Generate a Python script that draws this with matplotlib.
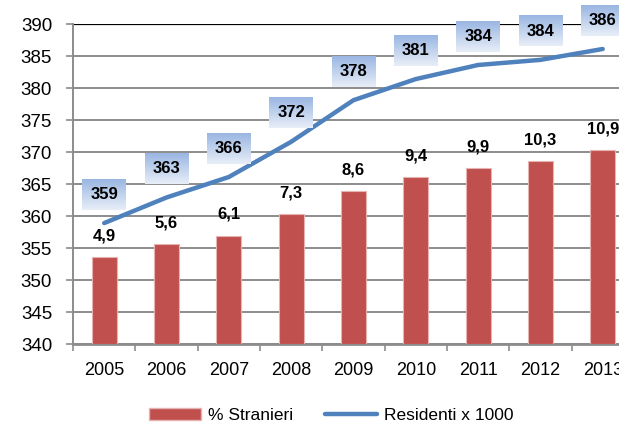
import numpy as np
import matplotlib
matplotlib.use("Agg")
import matplotlib.pyplot as plt
from matplotlib.colors import LinearSegmentedColormap
from matplotlib.lines import Line2D
from matplotlib.patches import Patch

plt.rcParams['font.family'] = ['Liberation Sans', 'DejaVu Sans']

years = ['2005', '2006', '2007', '2008', '2009', '2010', '2011', '2012', '2013']
pct_stranieri = [4.9, 5.6, 6.1, 7.3, 8.6, 9.4, 9.9, 10.3, 10.9]
residenti = [358.9, 362.9, 366.1, 371.6, 378.1, 381.4, 383.6, 384.4, 386.1]
pct_labels = ['4,9', '5,6', '6,1', '7,3', '8,6', '9,4', '9,9', '10,3', '10,9']

bar_color = '#C0504D'
line_color = '#4F81BD'
grid_color = '#8C8C8C'

fig = plt.figure(figsize=(6.19, 4.29), dpi=100)
# plot area runs past the right edge, as in the source image
ax = fig.add_axes([0.118, 0.198, 0.906, 0.746])
x = np.arange(len(years))

ax.set_xlim(-0.5, len(years) - 0.5)
ax.set_ylim(340, 390)
ax.set_yticks(np.arange(340, 391, 5))
ax.tick_params(axis='y', labelsize=13.5, length=5, width=1.2, color=grid_color, pad=10)
ax.set_xticks(x)
ax.set_xticklabels(years)
ax.set_xticks(np.arange(-0.5, len(years)), minor=True)
ax.tick_params(axis='x', which='major', length=0, labelsize=13, pad=13)
ax.tick_params(axis='x', which='minor', length=5, width=1.2, color=grid_color)
ax.grid(axis='y', color=grid_color, linewidth=1.4)
ax.set_axisbelow(True)
for s in ['right', 'top']:
    ax.spines[s].set_visible(False)
ax.spines['left'].set_color(grid_color)
ax.spines['left'].set_linewidth(1.4)
ax.spines['bottom'].set_color(grid_color)
ax.spines['bottom'].set_linewidth(2)
ax.axhline(390, color='black', linewidth=1.6, zorder=1)

# bars on hidden secondary scale
ax2 = ax.twinx()
ax2.set_ylim(0, 18)
ax2.bar(x, pct_stranieri, width=0.4, color=bar_color, edgecolor='#E6B3B2', linewidth=0.8)
for xi, v, lab in zip(x, pct_stranieri, pct_labels):
    ax2.annotate(lab, (xi, v), xytext=(0, 10), textcoords='offset points',
                 ha='center', va='bottom', fontsize=12, fontweight='bold')
ax2.set_yticks([])
for s in ax2.spines.values():
    s.set_visible(False)

# line on hidden primary-scale twin
ax3 = ax.twinx()
ax3.set_ylim(340, 390)
ax3.plot(x, residenti, color=line_color, linewidth=3.2, solid_capstyle='round')
ax3.set_yticks([])
for s in ax3.spines.values():
    s.set_visible(False)

# gradient label boxes, darker on top
cmap = LinearSegmentedColormap.from_list('box', ['#9AB6E2', '#E8EEF8'])
grad = np.linspace(0, 1, 64).reshape(-1, 1)
off, h, w = 4.5, 4.8, 0.35
for xi, v in zip(x, residenti):
    yc = v + off
    ax3.imshow(grad, extent=(xi - w, xi + w, yc - h / 2, yc + h / 2), origin='upper',
               cmap=cmap, aspect='auto', clip_on=False, zorder=3)
    ax3.text(xi, yc, f'{round(v)}', ha='center', va='center', fontsize=12,
             fontweight='bold', zorder=4, clip_on=False)
ax3.set_xlim(-0.5, len(years) - 0.5)
ax3.set_ylim(340, 390)

handles = [Patch(facecolor=bar_color, edgecolor='#E6B3B2'),
           Line2D([0], [0], color=line_color, linewidth=3.2, solid_capstyle='round')]
fig.legend(handles, ['% Stranieri', 'Residenti x 1000'], loc='lower center',
           bbox_to_anchor=(0.535, -0.022), ncol=2, frameon=False, fontsize=12.5,
           handlelength=3.0, columnspacing=1.8, handletextpad=0.4)

fig.savefig('out.png', dpi=100)
